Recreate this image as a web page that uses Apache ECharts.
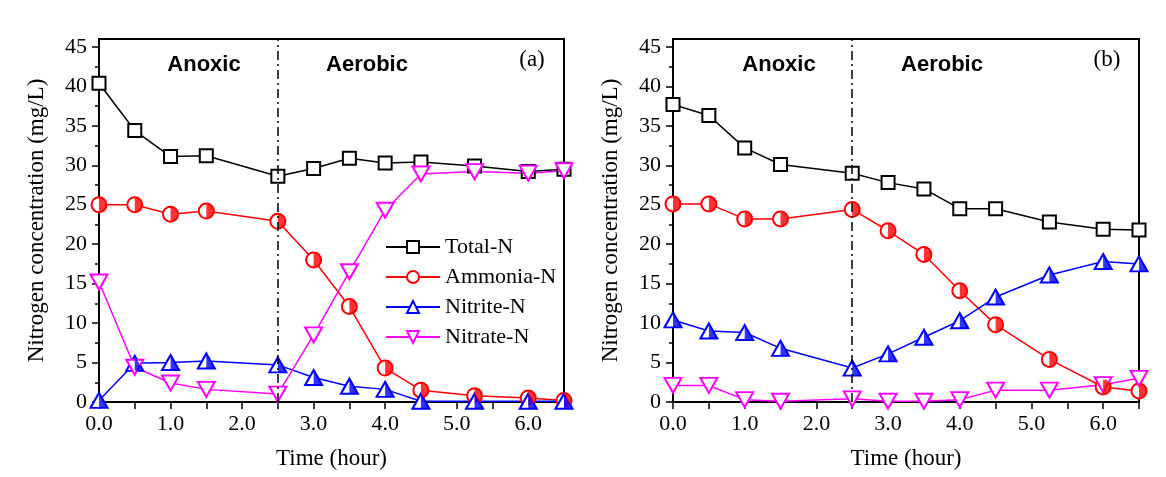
<!DOCTYPE html>
<html>
<head>
<meta charset="utf-8">
<script src="https://cdn.jsdelivr.net/npm/echarts@6/dist/echarts.min.js"></script>
<style>
  html, body { margin: 0; padding: 0; background: #fff; }
  #chart { width: 1166px; height: 477px; }
</style>
</head>
<body>
<div id="chart"></div>
<script>
// sampling times (hour)
const times = [0, 0.5, 1, 1.5, 2.5, 3, 3.5, 4, 4.5, 5.25, 6, 6.5];

// panel (a)
const totalA    = [40.4, 34.4, 31.1, 31.2, 28.6, 29.6, 30.9, 30.3, 30.4, 29.9, 29.2, 29.5];
const ammoniaA  = [25.0, 25.0, 23.8, 24.2, 22.9, 18.0, 12.1, 4.3, 1.5, 0.8, 0.5, 0.2];
const nitriteA  = [0.2, 4.9, 5.0, 5.2, 4.7, 3.1, 2.0, 1.6, 0.1, 0.1, 0.1, 0.1];
const nitrateA  = [15.2, 4.4, 2.4, 1.6, 1.0, 8.5, 16.5, 24.3, 28.9, 29.2, 29.0, 29.3];

// panel (b)
const totalB    = [37.7, 36.3, 32.2, 30.1, 29.0, 27.8, 27.0, 24.5, 24.5, 22.8, 21.9, 21.8];
const ammoniaB  = [25.1, 25.1, 23.2, 23.2, 24.4, 21.7, 18.7, 14.1, 9.8, 5.4, 1.9, 1.4];
const nitriteB  = [10.4, 9.0, 8.8, 6.8, 4.3, 6.1, 8.2, 10.3, 13.3, 16.1, 17.8, 17.5];
const nitrateB  = [2.1, 2.1, 0.3, 0.1, 0.4, 0.1, 0.1, 0.3, 1.5, 1.5, 2.2, 3.0];

const seriesNames = ['Total-N', 'Ammonia-N', 'Nitrite-N', 'Nitrate-N'];
const yMajor = [0, 5, 10, 15, 20, 25, 30, 35, 40, 45];
const yMinor = [2.5, 7.5, 12.5, 17.5, 22.5, 27.5, 32.5, 37.5, 42.5];
const phaseSwitch = 2.5;

const SERIF = '"Liberation Serif", "Times New Roman", serif';
const SANS = '"Liberation Sans", Arial, sans-serif';
const RED = '#ff0000';
const BLUE = '#0000ff';
const MAGENTA = '#ff00ff';

const HALF_CIRCLE = 'path://M0,0 A10,10 0 0 1 0,20 Z';
const HALF_TRIANGLE = 'path://M0,0 L10,20 L0,20 Z';

const GRIDS = [
  { left: 99, top: 39, width: 465, height: 363 },
  { left: 673, top: 39, width: 466, height: 363 }
];

function pairs(values) {
  return times.map((t, i) => [t, values[i]]);
}

function buildXAxis(gridIndex) {
  return {
    type: 'value', gridIndex, min: 0, max: 6.5, interval: 0.5,
    name: 'Time (hour)', nameLocation: 'middle', nameGap: 45,
    nameTextStyle: { fontFamily: SERIF, fontSize: 23, color: '#000' },
    axisLine: { show: true, lineStyle: { color: '#000', width: 2 } },
    axisTick: { show: true, length: 7, lineStyle: { color: '#000', width: 1.5 } },
    axisLabel: {
      margin: 11, color: '#000', fontFamily: SERIF, fontSize: 22,
      formatter: (v) => (Number.isInteger(v) && v < 6.5 ? v.toFixed(1) : '')
    },
    splitLine: { show: false }
  };
}

function buildYAxes(gridIndex) {
  return [
    {
      type: 'value', gridIndex, min: 0, max: 46,
      name: 'Nitrogen concentration (mg/L)', nameLocation: 'middle', nameGap: 51,
      nameTextStyle: { fontFamily: SERIF, fontSize: 23, color: '#000' },
      axisLine: { show: true, lineStyle: { color: '#000', width: 2 } },
      axisTick: { show: true, length: 7, customValues: yMajor, lineStyle: { color: '#000', width: 1.5 } },
      axisLabel: { margin: 12, color: '#000', fontFamily: SERIF, fontSize: 22, customValues: yMajor },
      splitLine: { show: false }
    },
    {
      type: 'value', gridIndex, min: 0, max: 46, position: 'left',
      axisLine: { show: false },
      axisTick: { show: true, length: 4, customValues: yMinor, lineStyle: { color: '#000', width: 1.5 } },
      axisLabel: { show: false },
      splitLine: { show: false }
    }
  ];
}

function buildPanelSeries(idx, total, ammonia, nitrite, nitrate) {
  const axes = { xAxisIndex: idx, yAxisIndex: idx * 2 };
  return [
    {
      name: 'Total-N', type: 'line', ...axes, data: pairs(total),
      symbol: 'emptyRect', symbolSize: 13, z: 3,
      lineStyle: { color: '#000', width: 1.5 },
      itemStyle: { color: '#000', borderWidth: 2 },
      markLine: {
        silent: true, symbol: 'none', label: { show: false },
        lineStyle: { color: '#000', width: 1.5, type: [9, 4, 2, 4] },
        data: [{ xAxis: phaseSwitch }]
      }
    },
    {
      name: 'Ammonia-N', type: 'line', ...axes, data: pairs(ammonia),
      symbol: 'emptyCircle', symbolSize: 15, z: 3,
      lineStyle: { color: RED, width: 1.5 },
      itemStyle: { color: RED, borderWidth: 1.5 }
    },
    {
      name: 'Ammonia-N fill', type: 'scatter', ...axes, data: pairs(ammonia),
      symbol: HALF_CIRCLE, symbolSize: [7.5, 15], symbolOffset: [3.75, 0], z: 4,
      itemStyle: { color: RED }, silent: true
    },
    {
      name: 'Nitrite-N', type: 'line', ...axes, data: pairs(nitrite),
      symbol: 'emptyTriangle', symbolSize: [17, 15], z: 3,
      lineStyle: { color: BLUE, width: 1.5 },
      itemStyle: { color: BLUE, borderWidth: 2 }
    },
    {
      name: 'Nitrite-N fill', type: 'scatter', ...axes, data: pairs(nitrite),
      symbol: HALF_TRIANGLE, symbolSize: [8.5, 15], symbolOffset: [4.25, 0], z: 4,
      itemStyle: { color: BLUE }, silent: true
    },
    {
      name: 'Nitrate-N', type: 'line', ...axes, data: pairs(nitrate),
      symbol: 'emptyTriangle', symbolRotate: 180, symbolSize: [17, 15], z: 3,
      lineStyle: { color: MAGENTA, width: 1.5 },
      itemStyle: { color: MAGENTA, borderWidth: 1.5 }
    }
  ];
}

function label(text, x, y, bold) {
  return {
    type: 'text', x, y,
    style: {
      text, fill: '#000', align: 'center', verticalAlign: 'middle',
      font: bold ? `bold 22px ${SANS}` : `23px ${SERIF}`
    }
  };
}

const chart = echarts.init(document.getElementById('chart'), null, { renderer: 'canvas' });

chart.setOption({
  backgroundColor: '#fff',
  animation: false,
  grid: GRIDS.map((g) => ({ ...g, show: true, borderColor: '#000', borderWidth: 2, backgroundColor: 'transparent' })),
  xAxis: [buildXAxis(0), buildXAxis(1)],
  yAxis: [...buildYAxes(0), ...buildYAxes(1)],
  legend: {
    data: seriesNames,
    orient: 'vertical',
    left: 380, top: 231,
    itemWidth: 54, itemHeight: 15, itemGap: 8,
    textStyle: { fontFamily: SERIF, fontSize: 22, color: '#000' },
    selectedMode: false
  },
  series: [
    ...buildPanelSeries(0, totalA, ammoniaA, nitriteA, nitrateA),
    ...buildPanelSeries(1, totalB, ammoniaB, nitriteB, nitrateB)
  ],
  graphic: [
    label('Anoxic', 204, 65, true),
    label('Aerobic', 367, 65, true),
    label('(a)', 532, 60, false),
    label('Anoxic', 779, 65, true),
    label('Aerobic', 942, 65, true),
    label('(b)', 1107, 60, false)
  ]
});
</script>
</body>
</html>
